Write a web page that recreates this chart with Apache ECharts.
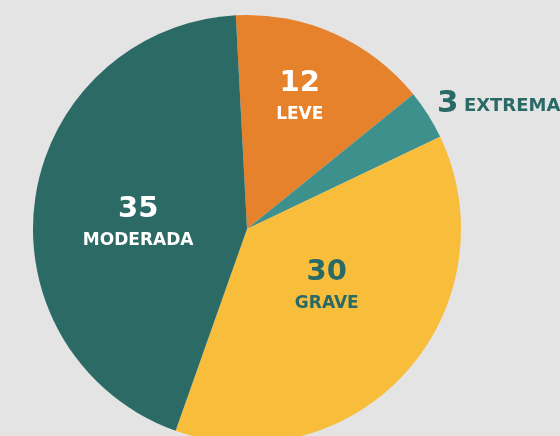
<!DOCTYPE html>
<html>
<head>
<meta charset="utf-8">
<script src="https://cdn.jsdelivr.net/npm/echarts@6/dist/echarts.min.js"></script>
<style>
  html, body { margin: 0; padding: 0; background: #e4e4e4; }
  #chart { width: 560px; height: 436px; }
</style>
</head>
<body>
<div id="chart"></div>
<script>
const categories = ['LEVE', 'EXTREMA', 'GRAVE', 'MODERADA']
const values = [12, 3, 30, 35]
const colors = ['#e6822b', '#3d908c', '#f8bd3b', '#2c6a66']
const labelColors = ['#ffffff', '#2a6a66', '#2a6a66', '#ffffff']

// small nudges of the default label spots, per slice
const labelNudge = [[8, -31], [4, -11], [-2, -16], [0, 10]]

const chart = echarts.init(document.getElementById('chart'))

const data = categories.map((name, i) => {
  const item = {
    name: name,
    value: values[i],
    itemStyle: { color: colors[i] },
    label: { color: labelColors[i] }
  }
  if (name === 'EXTREMA') {
    item.label = {
      position: 'outside',
      color: labelColors[i],
      formatter: '{n|{c}} {t|{b}}',
      rich: {
        n: { fontSize: 31, fontWeight: 'bold', fontFamily: 'DejaVu Sans', color: labelColors[i] },
        t: { fontSize: 18, fontWeight: 'bold', fontFamily: 'DejaVu Sans', color: labelColors[i], padding: [5, 0, 0, 2] }
      }
    }
    item.labelLine = { show: false, length: 0, length2: 0 }
  }
  return item
})

const option = {
  backgroundColor: '#e4e4e4',
  animation: false,
  series: [{
    type: 'pie',
    center: [247, 229],
    radius: 214,
    startAngle: 93,
    clockwise: true,
    avoidLabelOverlap: false,
    data: data,
    label: {
      position: 'inside',
      formatter: '{n|{c}}\n{t|{b}}',
      rich: {
        n: { fontSize: 29, fontWeight: 'bold', fontFamily: 'DejaVu Sans', lineHeight: 34, align: 'center' },
        t: { fontSize: 17, fontWeight: 'bold', fontFamily: 'DejaVu Sans', lineHeight: 28, align: 'center' }
      }
    },
    labelLine: { show: false },
    labelLayout: function (params) {
      const d = labelNudge[params.dataIndex]
      return { dx: d[0], dy: d[1] }
    }
  }]
}

chart.setOption(option)
</script>
</body>
</html>
